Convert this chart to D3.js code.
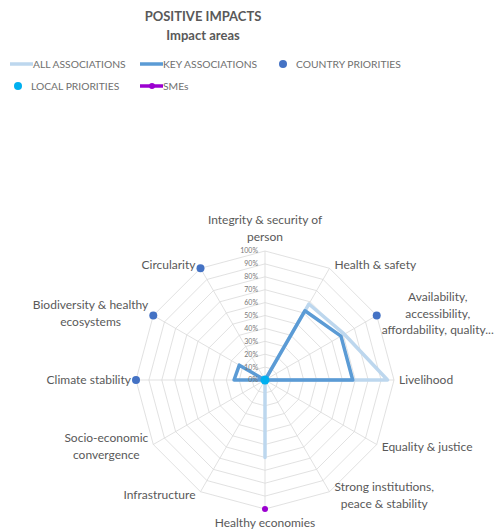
<!DOCTYPE html>
<meta charset="utf-8">
<style>
body { margin: 0; background: #fff; }
text { font-family: Lato, "Open Sans", sans-serif; fill: #595959; }
.grid { fill: none; stroke: #d9d9d9; stroke-width: 0.8; }
</style>
<body>
<script src="https://cdn.jsdelivr.net/npm/d3@7"></script>
<script>

// impact areas, clockwise from the top
var areas = ["Integrity & security of|person", "Health & safety",
  "Availability,|accessibility,|affordability, quality...", "Livelihood",
  "Equality & justice", "Strong institutions,|peace & stability",
  "Healthy economies", "Infrastructure", "Socio-economic|convergence",
  "Climate stability", "Biodiversity & healthy|ecosystems", "Circularity"];

// series values (0..1), null = no point
var allAssoc =   [0, 0.68, 0.71, 0.95, 0, 0, 0.60, 0, 0, 0, 0, 0];
var keyAssoc =   [0, 0.62, 0.68, 0.68, 0, 0, 0, 0, 0, 0.24, 0.23, 0];
var countryPri = [null, null, 1, null, null, null, null, null, null, 1, 1, 1];
var localPri =   [0, null, null, null, null, null, null, null, null, null, null, null];
var smes =       [null, null, null, null, null, null, 1, null, null, null, null, null];
var ticks = [0, 0.1, 0.2, 0.3, 0.4, 0.5, 0.6, 0.7, 0.8, 0.9, 1];

var legendItems = [
  {name: "ALL ASSOCIATIONS", type: "line", color: "#bdd7ee"},
  {name: "KEY ASSOCIATIONS", type: "line", color: "#5b9bd5"},
  {name: "COUNTRY PRIORITIES", type: "dot", color: "#4472c4"},
  {name: "LOCAL PRIORITIES", type: "dot", color: "#00b0f0"},
  {name: "SMEs", type: "linedot", color: "#9b00d0"}
];

var width = 500, height = 531;
var cx = 265, cy = 380, R = 129;

var svg = d3.select("body").append("svg")
    .attr("width", width)
    .attr("height", height);

var r = d3.scaleLinear().domain([0, 1]).range([0, R]);
var angle = d3.scaleLinear().domain([0, areas.length]).range([0, 2 * Math.PI]);

function px(i, v) { return cx + r(v) * Math.sin(angle(i)); }
function py(i, v) { return cy - r(v) * Math.cos(angle(i)); }

// title
svg.append("text").attr("x", 203).attr("y", 21).attr("text-anchor", "middle")
  .style("font-size", "13px").style("font-weight", "bold").text("POSITIVE IMPACTS");
svg.append("text").attr("x", 203).attr("y", 40).attr("text-anchor", "middle")
  .style("font-size", "13px").style("font-weight", "bold").text("Impact areas");

// legend
var legendPos = [[10, 64], [140, 64], [275, 64], [10, 86], [140, 86]];
legendItems.forEach(function(d, i) {
  var g = svg.append("g").attr("transform", "translate(" + legendPos[i][0] + "," + legendPos[i][1] + ")");
  if (d.type != "dot") {
    g.append("line").attr("x1", 0).attr("x2", 23).attr("y1", 0).attr("y2", 0)
      .attr("stroke", d.color).attr("stroke-width", 3.5);
  }
  if (d.type == "dot") {
    g.append("circle").attr("cx", 8).attr("cy", 0).attr("r", 4).attr("fill", d.color);
  }
  if (d.type == "linedot") {
    g.append("circle").attr("cx", 12).attr("cy", 0).attr("r", 3).attr("fill", d.color);
  }
  g.append("text").attr("x", d.type == "dot" ? 21 : 23).attr("y", 0).attr("dy", "0.35em")
    .style("font-size", "10.3px").style("fill", "#6f6f6f").text(d.name);
});

// grid rings
var ring = d3.lineRadial().angle(function(d, i) { return angle(i); }).curve(d3.curveLinearClosed);
var grid = svg.append("g").attr("transform", "translate(" + cx + "," + cy + ")");
ticks.slice(1).forEach(function(t) {
  grid.append("path").attr("class", "grid")
    .attr("d", ring.radius(r(t))(areas));
});
areas.forEach(function(a, i) {
  grid.append("line").attr("class", "grid")
    .attr("x1", 0).attr("y1", 0)
    .attr("x2", r(1) * Math.sin(angle(i))).attr("y2", -r(1) * Math.cos(angle(i)));
});

// series lines
function drawSeries(vals, color) {
  svg.append("path")
    .datum(vals)
    .attr("fill", "none")
    .attr("stroke", color)
    .attr("stroke-width", 3.5)
    .attr("stroke-linejoin", "round")
    .attr("d", d3.line()
      .x(function(d, i) { return px(i, d); })
      .y(function(d, i) { return py(i, d); })
      .curve(d3.curveLinearClosed));
}
drawSeries(allAssoc, "#bdd7ee");
drawSeries(keyAssoc, "#5b9bd5");

// point series
function drawDots(vals, color, rad) {
  vals.forEach(function(v, i) {
    if (v === null) return;
    svg.append("circle").attr("cx", px(i, v)).attr("cy", py(i, v))
      .attr("r", rad).attr("fill", color);
  });
}
drawDots(countryPri, "#4472c4", 4);
drawDots(localPri, "#00b0f0", 4.5);
drawDots(smes, "#9b00d0", 3);

// tick labels
svg.selectAll(".tick").data(ticks).enter().append("text")
  .attr("x", cx - 7).attr("y", function(d) { return cy - r(d); })
  .attr("dy", "0.35em").attr("text-anchor", "end")
  .style("font-size", "7px").style("fill", "#777")
  .text(function(d) { return Math.round(d * 100) + "%"; });

// axis labels
var lh = 16.5;
areas.forEach(function(a, i) {
  var lines = a.split("|");
  var s = Math.sin(angle(i)), c = Math.cos(angle(i));
  var x0 = px(i, 1), y0 = py(i, 1);
  var g = svg.append("g");
  var texts = lines.map(function(l) {
    return g.append("text").style("font-size", "12px").attr("text-anchor", "middle").text(l);
  });
  var w = d3.max(texts, function(t) { return t.node().getComputedTextLength(); });
  var h = lines.length * lh;
  var bx, by;
  if (s > 0.1) bx = x0 + 5 + w / 2;
  else if (s < -0.1) bx = x0 - 5 - w / 2;
  else bx = x0;
  if (Math.abs(s) > 0.1) by = y0 - c * 4;
  else by = y0 - c * (h / 2 + 6);
  texts.forEach(function(t, k) {
    t.attr("x", bx).attr("y", by - h / 2 + lh * k + lh / 2).attr("dy", "0.35em");
  });
});

</script>
</body>
